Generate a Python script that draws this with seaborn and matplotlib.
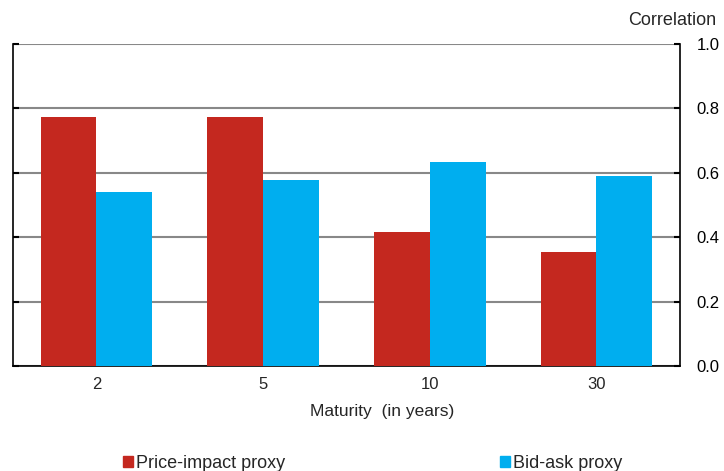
import numpy as np
import pandas as pd

import matplotlib
matplotlib.use('Agg')
import matplotlib.pyplot as plt
import seaborn as sns

maturities = ['2', '5', '10', '30']
price_impact = [0.772, 0.772, 0.417, 0.355]
bid_ask = [0.540, 0.578, 0.634, 0.590]
series = ['Price-impact proxy', 'Bid-ask proxy']
colors = ['#C4281F', '#00AEEF']

df = pd.DataFrame({
    'Maturity': maturities * 2,
    'Correlation': price_impact + bid_ask,
    'Series': [series[0]] * 4 + [series[1]] * 4,
})

sns.set_style('white')
plt.rcParams['font.family'] = ['Liberation Sans', 'DejaVu Sans']

fig = plt.figure(figsize=(7.24, 4.71), dpi=100)
ax = fig.add_axes([0.018, 0.223, 0.921, 0.684])

sns.barplot(data=df, x='Maturity', y='Correlation', hue='Series', order=maturities,
            hue_order=series, palette=colors, width=0.67, saturation=1,
            edgecolor='none', linewidth=0, ax=ax, zorder=3)

ax.set_ylim(0, 1.0)
ax.set_yticks(np.arange(0, 1.01, 0.2))
ax.set_yticklabels(['{:.1f}'.format(v) for v in np.arange(0, 1.01, 0.2)])
ax.yaxis.tick_right()
ax.tick_params(axis='y', which='both', left=True, right=True, direction='in',
               length=4, width=1.5, labelsize=12, pad=12, colors='black')
ax.tick_params(axis='x', length=0, labelsize=12, pad=8)
ax.grid(axis='y', color='#888888', lw=1.5, zorder=0)
ax.set_axisbelow(True)

for s in ['left', 'right', 'bottom']:
    ax.spines[s].set_visible(True)
    ax.spines[s].set_color('black')
    ax.spines[s].set_linewidth(1.2)
ax.spines['top'].set_visible(False)

ax.set_xlabel('Maturity  (in years)', fontsize=12.5)
ax.xaxis.set_label_coords(0.553, -0.118)
ax.set_ylabel('')
fig.text(0.989, 0.957, 'Correlation', ha='right', va='center', fontsize=13)

ax.get_legend().remove()
handles = [plt.Rectangle((0, 0), 1, 1, color=c) for c in colors]
fig.legend(handles, series, loc='center left', bbox_to_anchor=(0.158, 0.0157),
           ncol=2, frameon=False, fontsize=13, handlelength=0.55, handleheight=0.55,
           handletextpad=0.17, columnspacing=11.9, borderpad=0)

fig.savefig('out.png', dpi=100)
